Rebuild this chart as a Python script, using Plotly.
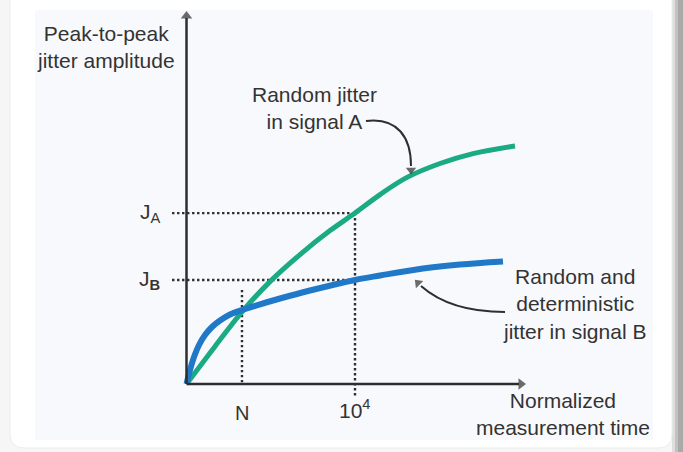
import plotly.graph_objects as go

# Measurement time (normalized units) and peak-to-peak jitter for each signal
time_a = [0, 8.28, 16.13, 24.27, 32.99, 41.72, 48.98, 56.25, 64.10, 73.69, 83.29, 95.49]
jitter_a = [0, 10.19, 19.56, 27.75, 35.07, 41.57, 46.32, 51.33, 55.99, 59.75, 62.44, 64.50]

time_b = [0, 1.02, 2.18, 3.63, 5.38, 7.41, 9.74, 12.65, 16.13, 20.20, 27.18, 35.90,
          48.98, 56.25, 68.75, 79.51, 92.01]
jitter_b = [0, 3.79, 7.32, 10.57, 13.28, 15.45, 17.21, 18.83, 20.05, 21.27, 23.17, 25.34,
            28.20, 29.40, 31.30, 32.38, 33.20]

# Reference marks on the axes
t_n = 16.13       # "N"
t_1e4 = 48.98     # "10^4"
j_a = 46.32       # J_A
j_b = 28.20       # J_B
tick_labels = ["N", "10<sup>4</sup>"]

W, H = 683, 452
# pixel scale of the drawing (px per unit) and origin position
PX_X, PX_Y = 3.44, 3.69
ORIG_X, ORIG_Y = 186.5, 384

INK = "#2e2e2e"
TXT = "#333333"
GREEN = "#1aaa84"
BLUE = "#1f78c8"
FONT = "Arial, Liberation Sans, sans-serif"


def px(xp, yp):
    return (xp - ORIG_X) / PX_X, (ORIG_Y - yp) / PX_Y


fig = go.Figure()

# dotted guide lines
dot = dict(color=INK, width=2.4, dash="2.4px,2.6px")
fig.add_trace(go.Scatter(x=[-4.2, t_1e4], y=[j_a, j_a], mode="lines", line=dot, hoverinfo="skip"))
fig.add_trace(go.Scatter(x=[-4.2, t_1e4], y=[j_b, j_b], mode="lines", line=dot, hoverinfo="skip"))
fig.add_trace(go.Scatter(x=[t_1e4, t_1e4], y=[j_a, -3.5], mode="lines", line=dot, hoverinfo="skip"))
fig.add_trace(go.Scatter(x=[t_n, t_n], y=[25.5, 0], mode="lines", line=dot, hoverinfo="skip"))

# jitter curves
fig.add_trace(go.Scatter(x=time_a, y=jitter_a, mode="lines",
                         line=dict(color=GREEN, width=5, shape="spline", smoothing=1.0),
                         hoverinfo="skip"))
fig.add_trace(go.Scatter(x=time_b, y=jitter_b, mode="lines",
                         line=dict(color=BLUE, width=6, shape="spline", smoothing=1.0),
                         hoverinfo="skip"))

x_rng = [-ORIG_X / PX_X, (W - ORIG_X) / PX_X]
y_rng = [-(H - ORIG_Y) / PX_Y, ORIG_Y / PX_Y]

shapes = []
# page background: light card with a shadowed right edge
shapes.append(dict(type="rect", xref="paper", yref="paper", x0=672 / W, x1=675 / W, y0=0, y1=1,
                   fillcolor="#dedede", line_width=0, layer="below"))
shapes.append(dict(type="rect", xref="paper", yref="paper", x0=675 / W, x1=678 / W, y0=0, y1=1,
                   fillcolor="#c2c2c2", line_width=0, layer="below"))
shapes.append(dict(type="rect", xref="paper", yref="paper", x0=678 / W, x1=1, y0=0, y1=1,
                   fillcolor="#a9a9a9", line_width=0, layer="below"))
# rounded white card
r = 14
x0c, x1c, y0c, y1c = 10, 672, -20, 448


def P(xp, yp):
    return f"{xp / W:.5f},{1 - yp / H:.5f}"


card = (f"M {P(x0c + r, y0c)} L {P(x1c - r, y0c)} Q {P(x1c, y0c)} {P(x1c, y0c + r)} "
        f"L {P(x1c, y1c - r)} Q {P(x1c, y1c)} {P(x1c - r, y1c)} "
        f"L {P(x0c + r, y1c)} Q {P(x0c, y1c)} {P(x0c, y1c - r)} "
        f"L {P(x0c, y0c + r)} Q {P(x0c, y0c)} {P(x0c + r, y0c)} Z")
shapes.append(dict(type="path", xref="paper", yref="paper", path=card,
                   fillcolor="#ffffff", line=dict(color="#ececec", width=1), layer="below"))
# inner panel
shapes.append(dict(type="rect", xref="paper", yref="paper", x0=35 / W, x1=653 / W,
                   y0=1 - 440 / H, y1=1 - 10 / H, fillcolor="#f8f9fc", line_width=0, layer="below"))

# axis lines
ax_end_x = px(519, 0)[0]
ax_end_y = px(0, 18)[1]
shapes.append(dict(type="line", xref="x", yref="y", x0=0, y0=0, x1=ax_end_x, y1=0,
                   line=dict(color=INK, width=2.5)))
shapes.append(dict(type="line", xref="x", yref="y", x0=0, y0=0, x1=0, y1=ax_end_y,
                   line=dict(color=INK, width=2.5)))

# curved pointer arrows
sa = px(366, 121); c1 = px(398, 117); c2 = px(411, 138); ea = px(411, 166)
shapes.append(dict(type="path", xref="x", yref="y",
                   path=f"M {sa[0]},{sa[1]} C {c1[0]},{c1[1]} {c2[0]},{c2[1]} {ea[0]},{ea[1]}",
                   line=dict(color=INK, width=2)))
sb = px(505, 312); d1 = px(465, 312); d2 = px(438, 301); eb = px(421, 286)
shapes.append(dict(type="path", xref="x", yref="y",
                   path=f"M {sb[0]},{sb[1]} C {d1[0]},{d1[1]} {d2[0]},{d2[1]} {eb[0]},{eb[1]}",
                   line=dict(color=INK, width=2)))

# arrowheads drawn as rotated triangle markers
heads = [(px(521, 384), 90, 10), (px(186.5, 16), 0, 10), (px(411, 170), 180, 9), (px(418, 283), -45, 9)]
fig.add_trace(go.Scatter(
    x=[h[0][0] for h in heads], y=[h[0][1] for h in heads], mode="markers",
    marker=dict(symbol="triangle-up", size=[h[2] for h in heads], angle=[h[1] for h in heads],
                color=INK, line=dict(width=0)),
    hoverinfo="skip"))

ann = []


def label(text, xy, size=21, align="center"):
    ann.append(dict(x=xy[0], y=xy[1], xref="x", yref="y", text=text, showarrow=False,
                    xanchor="center", yanchor="middle", align=align,
                    font=dict(family=FONT, size=size, color=TXT)))


label("Peak-to-peak<br>jitter amplitude", px(106, 47))
label("Random jitter<br>in signal A", px(314, 108))
label("Random and<br>deterministic<br>jitter in signal B", px(574, 304))
label("Normalized<br>measurement time", px(563, 414))
label(tick_labels[0], (t_n, px(0, 413)[1]), size=20)
label(tick_labels[1], (t_1e4, px(0, 409)[1]), size=21)
label("J<sub>A</sub>", (px(150, 0)[0], j_a), size=21)
label("J<sub><b>B</b></sub>", (px(149, 0)[0], j_b), size=21)

fig.update_layout(
    width=W, height=H, autosize=False,
    margin=dict(l=0, r=0, t=0, b=0),
    paper_bgcolor="#f6f6f6", plot_bgcolor="rgba(0,0,0,0)",
    showlegend=False,
    xaxis=dict(range=x_rng, visible=False, fixedrange=True),
    yaxis=dict(range=y_rng, visible=False, fixedrange=True),
    shapes=shapes, annotations=ann,
)

fig.write_html("out.html")
